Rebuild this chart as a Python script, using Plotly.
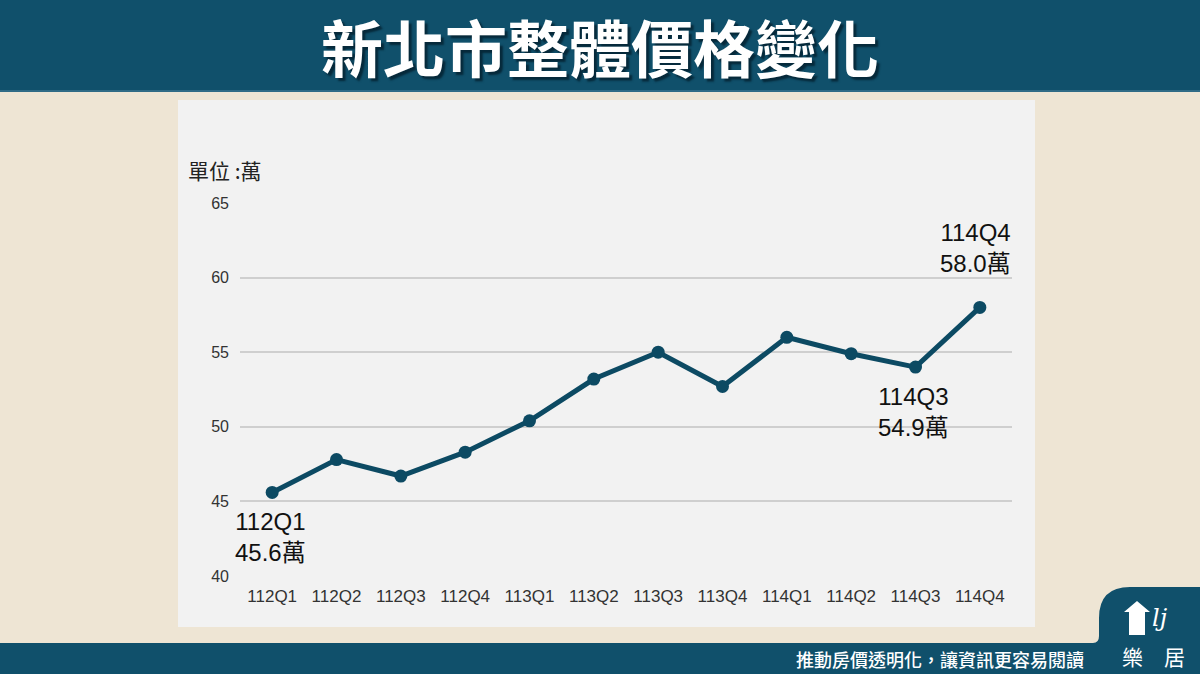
import plotly.graph_objects as go

# ---------------- data ----------------
quarters = ["112Q1", "112Q2", "112Q3", "112Q4", "113Q1", "113Q2",
            "113Q3", "113Q4", "114Q1", "114Q2", "114Q3", "114Q4"]
prices = [45.6, 47.8, 46.7, 48.3, 50.4, 53.2, 55.0, 52.7, 56.0, 54.9, 54.0, 58.0]
y_ticks = [40, 45, 50, 55, 60, 65]

callout_quarters = ["112Q1", "114Q3", "114Q4"]
callout_texts = ["45.6萬", "54.9萬", "58.0萬"]

title_text = "新北市整體價格變化"
unit_text = "單位 :萬"
footer_text = "推動房價透明化，讓資訊更容易閱讀"
logo_text = "樂　居"

# ---------------- styling ----------------
W, H = 1200, 674
PL, PR, PT, PB = 240, 1012, 203, 576  # plot area in pixels
DARK = "#10506b"
BEIGE = "#eee5d4"
PANEL = "#f2f2f2"
LINE = "#0c4a63"
LAT = "Liberation Sans, Arial, Noto Sans CJK TC, sans-serif"
CJK = "Noto Sans CJK TC, sans-serif"


def px(x):
    return (x - PL) / (PR - PL)


def py(y):
    return (PB - y) / (PB - PT)


fig = go.Figure()
fig.add_trace(go.Scatter(
    x=quarters, y=prices, mode="lines+markers",
    line=dict(color=LINE, width=5),
    marker=dict(color=LINE, size=13),
    hoverinfo="skip", showlegend=False,
))

shapes = [
    # grey panel
    dict(type="rect", xref="paper", yref="paper", layer="below",
         x0=px(178), x1=px(1035), y0=py(627), y1=py(100),
         fillcolor=PANEL, line=dict(width=0)),
    # header band
    dict(type="rect", xref="paper", yref="paper", layer="above",
         x0=px(0), x1=px(W), y0=py(91), y1=py(0),
         fillcolor=DARK, line=dict(width=0)),
    dict(type="line", xref="paper", yref="paper", layer="above",
         x0=px(0), x1=px(W), y0=py(91), y1=py(91),
         line=dict(color="#2f6b86", width=2)),
]

# footer band with bump for logo
path = (f"M {px(0)},{py(643)} L {px(1093)},{py(643)} "
        f"Q {px(1099)},{py(643)} {px(1099)},{py(636)} "
        f"L {px(1099)},{py(618)} "
        f"Q {px(1099)},{py(587)} {px(1130)},{py(587)} "
        f"L {px(W)},{py(587)} L {px(W)},{py(H)} L {px(0)},{py(H)} Z")
shapes.append(dict(type="path", xref="paper", yref="paper", layer="above",
                   path=path, fillcolor=DARK, line=dict(width=0)))

# simple logo house glyph
house = (f"M {px(1124)},{py(612)} L {px(1137)},{py(601)} L {px(1150)},{py(612)} "
         f"L {px(1145)},{py(612)} L {px(1145)},{py(635)} L {px(1129)},{py(635)} "
         f"L {px(1129)},{py(612)} Z")
shapes.append(dict(type="path", xref="paper", yref="paper", layer="above",
                   path=house, fillcolor="white", line=dict(width=0)))

annotations = [
    # title with drop shadow
    dict(text=title_text, xref="paper", yref="paper", x=px(600), y=py(46),
         showarrow=False, xanchor="center", yanchor="middle",
         font=dict(family=CJK, size=62, color="white", weight="bold",
                   shadow="3px 3px 2px #06293a")),
    # unit label
    dict(text=unit_text, xref="paper", yref="paper", x=px(186), y=py(170),
         showarrow=False, xanchor="left", yanchor="middle",
         font=dict(family=CJK, size=21, color="#222222")),
    # footer text
    dict(text=footer_text, xref="paper", yref="paper", x=px(1086), y=py(659),
         showarrow=False, xanchor="right", yanchor="middle",
         font=dict(family=CJK, size=18, color="white", weight=500)),
    dict(text=logo_text, xref="paper", yref="paper", x=px(1153), y=py(656),
         showarrow=False, xanchor="center", yanchor="middle",
         font=dict(family=CJK, size=21, color="white")),
    dict(text="<i>lj</i>", xref="paper", yref="paper", x=px(1160), y=py(618),
         showarrow=False, xanchor="center", yanchor="middle",
         font=dict(family="DejaVu Serif, serif", size=24, color="white")),
]

# callouts
idx = {q: i for i, q in enumerate(quarters)}
for q, t in zip(callout_quarters, callout_texts):
    v = prices[idx[q]]
    if q == quarters[-1]:
        annotations.append(dict(
            x=q, y=v, xref="x", yref="y", text=f"{q}<br>{t}", showarrow=False,
            xanchor="right", yanchor="bottom", xshift=33, yshift=28, align="right",
            font=dict(family=LAT, size=24, color="#111111")))
    else:
        annotations.append(dict(
            x=q, y=v, xref="x", yref="y", text=f"{q}<br>{t}", showarrow=False,
            xanchor="center", yanchor="top", xshift=-2, yshift=-14, align="center",
            font=dict(family=LAT, size=24, color="#111111")))

fig.update_layout(
    width=W, height=H,
    margin=dict(l=PL, r=W - PR, t=PT, b=H - PB, pad=0),
    paper_bgcolor=BEIGE, plot_bgcolor=PANEL,
    shapes=shapes, annotations=annotations,
    showlegend=False,
    xaxis=dict(type="category", range=[-0.5, len(quarters) - 0.5],
               showgrid=False, zeroline=False, showline=False, ticks="",
               tickfont=dict(family=LAT, size=17, color="#333333"),
               ticklabelstandoff=8, fixedrange=True),
    yaxis=dict(range=[40, 65], tickvals=y_ticks, showgrid=True,
               gridcolor="#cfcfcf", gridwidth=1.5, zeroline=False, showline=False,
               ticks="", tickfont=dict(family=LAT, size=16, color="#333333"),
               ticklabelstandoff=10, fixedrange=True),
)

fig.write_html("out.html")
